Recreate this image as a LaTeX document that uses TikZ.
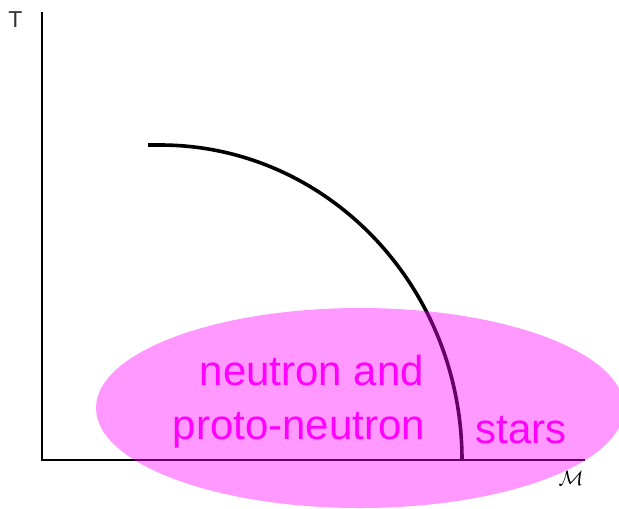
\documentclass[tikz,border=0pt]{standalone}
\usepackage{fontspec}
\setmainfont{Liberation Sans}
\definecolor{mag}{RGB}{255,0,255}
\begin{document}
\begin{tikzpicture}[x=1pt,y=-1pt,
  axis/.style={line width=2.6pt,black},
  curve/.style={line width=3.6pt,black},
  lbl/.style={text=mag,font=\fontsize{42}{44}\selectfont,inner sep=0pt}]
\useasboundingbox (0,0) rectangle (619,509);
\coordinate (o) at (42,460);
\coordinate (ytop) at (42,12);
\coordinate (xend) at (585,460);
\draw[axis] (ytop) -- (o) -- (xend);
\node[font=\fontsize{23}{24}\selectfont,inner sep=0pt,text=black!80] (T) at (15.5,20) {T};
\node[inner sep=0pt,font=\fontsize{20}{22}\selectfont] (M) at (571,478) {$\mathcal{M}$};
\coordinate (cs) at (148,145);
\coordinate (ctop) at (160,145);
\draw[curve] (cs) -- (ctop) arc[start angle=90,end angle=0,x radius=302,y radius=-315];
\fill[mag,opacity=0.4] (360,408) ellipse[x radius=264,y radius=100];
\node[lbl] (n1) at (312,370) {neutron and};
\node[lbl] (n2) at (299,430) {proto-neutron};
\node[lbl] (n3) at (521,430) {stars};
\end{tikzpicture}
\end{document}
